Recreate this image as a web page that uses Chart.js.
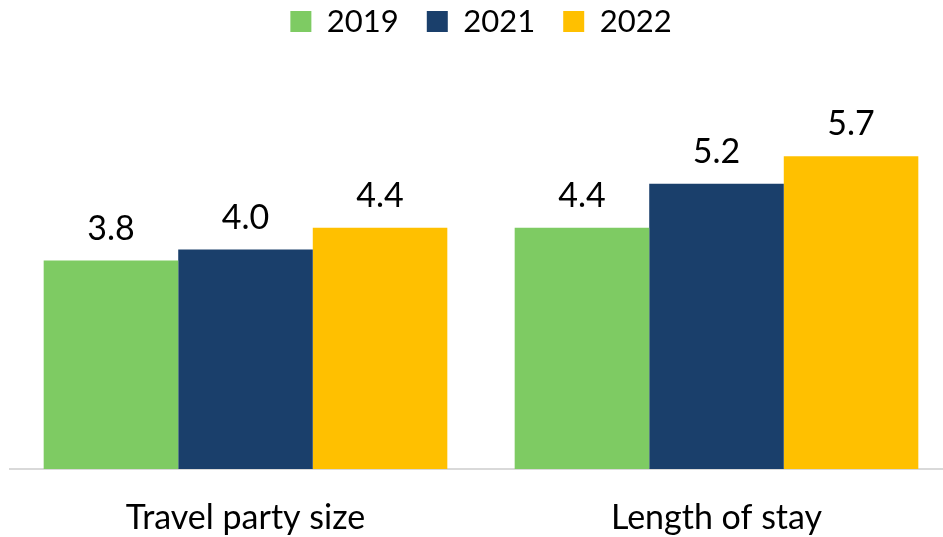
<!DOCTYPE html>
<html>
<head>
<meta charset="utf-8">
<script src="https://cdn.jsdelivr.net/npm/chart.js@4"></script>
<style>
  html, body { margin: 0; padding: 0; background: #fff; overflow: hidden; }
  #wrap { width: 952px; height: 537px; }
</style>
</head>
<body>
<div id="wrap"><canvas id="chart"></canvas></div>
<script>
const categories = ['Travel party size', 'Length of stay'];
const years = ['2019', '2021', '2022'];
const values2019 = [3.8, 4.4];
const values2021 = [4.0, 5.2];
const values2022 = [4.4, 5.7];
const colors = ['#7ECB63', '#1A3F6B', '#FFC000'];

const FONT = 'Lato, "Open Sans", sans-serif';

// value labels above each bar
const barValues = {
  id: 'barValues',
  afterDatasetsDraw(chart) {
    const { ctx } = chart;
    ctx.save();
    ctx.font = '34px ' + FONT;
    ctx.fillStyle = '#000';
    ctx.textAlign = 'center';
    ctx.textBaseline = 'alphabetic';
    chart.data.datasets.forEach((ds, i) => {
      chart.getDatasetMeta(i).data.forEach((bar, j) => {
        ctx.fillText(ds.data[j].toFixed(1), bar.x, bar.y - 21);
      });
    });
    ctx.restore();
  }
};

// extra room between the legend and the bars
const legendGap = {
  id: 'legendGap',
  beforeInit(chart) {
    const fit = chart.legend.fit;
    chart.legend.fit = function () {
      fit.bind(chart.legend)();
      this.height += 38;
    };
  }
};

new Chart(document.getElementById('chart'), {
  type: 'bar',
  data: {
    labels: categories,
    datasets: [
      { label: years[0], data: values2019, backgroundColor: colors[0] },
      { label: years[1], data: values2021, backgroundColor: colors[1] },
      { label: years[2], data: values2022, backgroundColor: colors[2] }
    ]
  },
  options: {
    responsive: true,
    maintainAspectRatio: false,
    animation: false,
    layout: { padding: { left: 10, right: 0, top: -22, bottom: 0 } },
    datasets: {
      bar: { categoryPercentage: 0.857, barPercentage: 1.0 }
    },
    plugins: {
      legend: {
        position: 'top',
        labels: {
          font: { family: FONT, size: 31 },
          color: '#000',
          boxWidth: 21,
          boxHeight: 21,
          padding: 28
        }
      },
      tooltip: { enabled: false }
    },
    scales: {
      x: {
        grid: { display: false, drawTicks: false },
        border: { color: '#D9D9D9', width: 2 },
        ticks: { font: { family: FONT, size: 34 }, color: '#000', padding: 29 },
        afterFit(scale) { scale.height = 68; }
      },
      y: {
        display: false,
        min: 0,
        max: 7
      }
    }
  },
  plugins: [barValues, legendGap]
});
</script>
</body>
</html>
